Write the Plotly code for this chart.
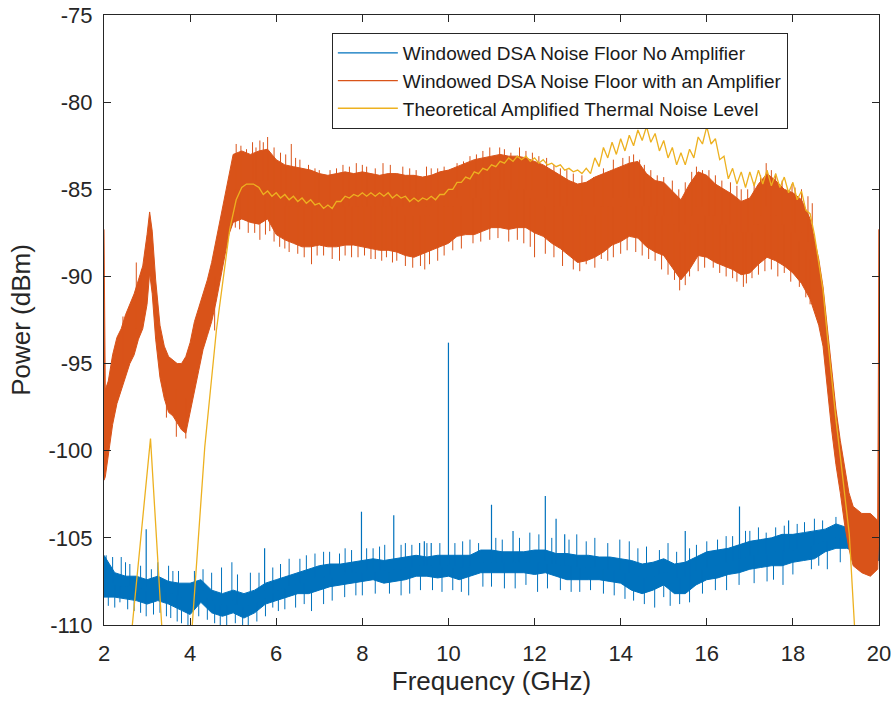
import plotly.graph_objects as go

# ---------------- data ----------------
# Windowed DSA noise floor, no amplifier: dense core of the trace (GHz, dBm)
blue_x = [2.0, 2.25, 2.5, 2.75, 3.0, 3.25, 3.5, 3.75, 4.0, 4.25, 4.5, 4.75, 5.0, 5.25, 5.5,
          5.75, 6.0, 6.25, 6.5, 6.75, 7.0, 7.25, 7.5, 7.75, 8.0, 8.25, 8.5, 8.75, 9.0, 9.25,
          9.5, 9.75, 10.0, 10.25, 10.5, 10.75, 11.0, 11.25, 11.5, 11.75, 12.0, 12.25, 12.5,
          12.75, 13.0, 13.25, 13.5, 13.75, 14.0, 14.25, 14.5, 14.75, 15.0, 15.25, 15.5, 15.75,
          16.0, 16.25, 16.5, 16.75, 17.0, 17.25, 17.5, 17.75, 18.0, 18.25, 18.5, 18.75, 19.0,
          19.25, 19.5, 19.75, 20.0]
blue_hi = [-106.0, -107.0, -107.2, -107.2, -107.4, -107.2, -107.5, -107.6, -107.6, -107.4,
           -108.0, -108.2, -108.0, -108.2, -108.0, -107.6, -107.4, -107.2, -107.0, -106.8,
           -106.6, -106.5, -106.5, -106.4, -106.3, -106.2, -106.3, -106.2, -106.1, -106.0,
           -106.1, -106.0, -106.0, -106.0, -106.0, -105.7, -105.7, -105.8, -105.8, -105.8,
           -105.7, -105.7, -105.9, -105.9, -106.0, -106.0, -106.1, -106.1, -106.2, -106.3,
           -106.5, -106.4, -106.2, -106.5, -106.4, -106.1, -105.8, -105.7, -105.6, -105.4,
           -105.2, -105.1, -105.0, -104.8, -104.8, -104.7, -104.6, -104.5, -104.2, -104.4,
           -104.7, -104.8, -105.0]
blue_lo = [-108.4, -108.4, -108.5, -108.6, -108.8, -108.6, -108.8, -109.1, -109.4, -108.7,
           -109.3, -109.5, -109.3, -109.6, -109.3, -108.8, -108.6, -108.4, -108.2, -108.2,
           -108.0, -107.8, -107.7, -107.6, -107.5, -107.4, -107.6, -107.5, -107.4, -107.2,
           -107.2, -107.3, -107.2, -107.4, -107.2, -107.0, -107.0, -107.0, -107.0, -107.0,
           -107.1, -107.0, -107.2, -107.4, -107.4, -107.4, -107.4, -107.5, -107.6, -108.0,
           -108.2, -108.0, -107.7, -108.2, -108.2, -107.7, -107.4, -107.3, -107.1, -107.0,
           -106.8, -106.7, -106.6, -106.6, -106.4, -106.3, -106.2, -105.8, -105.6, -105.6,
           -105.8, -106.1, -106.3]
# narrow spurs on the no-amplifier trace
spur_x = [2.98, 5.73, 7.98, 8.73, 9.33, 9.44, 9.60, 10.0, 11.0, 11.5, 12.25, 12.5, 12.7,
          15.5, 16.76, 17.9]
spur_top = [-104.5, -105.6, -103.5, -103.7, -105.3, -105.2, -105.3, -93.8, -103.1, -104.6,
            -102.6, -103.9, -104.8, -104.6, -103.2, -104.0]
spur_base = [-107.8, -108.0, -106.8, -106.8, -106.6, -106.6, -106.6, -106.6, -106.3, -106.4,
             -106.3, -106.5, -106.6, -107.2, -106.2, -105.6]
# noise excursions above the core (x, inside-band level, tip)
blue_up_x = [2.2, 2.4, 2.6, 3.25, 3.5, 3.73, 4.3, 4.73, 4.97, 5.4, 5.92, 6.3, 6.55, 6.9,
             7.24, 7.47, 7.75, 8.25, 8.52, 9.0, 9.15, 9.8, 10.33, 10.7, 11.25, 11.89, 12.1,
             12.98, 13.4, 13.98, 14.2, 14.6, 15.1, 15.76, 16.25, 16.6, 17.0, 17.38, 17.6,
             18.27, 18.69, 19.0,
             2.05, 2.5, 2.85, 3.1, 3.6, 4.1, 4.5, 5.1, 5.6, 6.1, 6.7, 7.1, 7.6, 8.1, 8.4,
             8.9, 9.5, 10.15, 10.5, 11.1, 11.65, 12.4, 12.8, 13.2, 13.7, 14.4, 14.9, 15.3,
             15.6, 16.0, 16.45, 16.9, 17.2, 17.8, 18.1, 18.5]
blue_up_from = [-107.6, -107.8, -107.8, -107.9, -108.0, -108.3, -108.0, -108.8, -108.6,
                -108.8, -108.0, -107.8, -107.6, -107.3, -107.1, -107.0, -107.0, -106.8,
                -106.9, -106.7, -106.7, -106.6, -106.7, -106.4, -106.4, -106.4, -106.4,
                -106.7, -106.7, -106.8, -107.0, -107.3, -107.0, -106.9, -106.5, -106.3,
                -106.0, -105.9, -105.8, -105.5, -105.2, -105.0,
                -107.4, -107.8, -107.9, -108.0, -108.2, -108.4, -108.6, -108.8, -108.5,
                -107.9, -107.4, -107.2, -107.0, -106.9, -106.9, -106.8, -106.6, -106.6,
                -106.6, -106.4, -106.4, -106.5, -106.6, -106.7, -106.8, -107.2, -107.1,
                -107.3, -107.2, -106.7, -106.4, -106.1, -106.0, -105.8, -105.6, -105.4]
blue_up_tip = [-106.1, -106.1, -106.5, -106.4, -106.6, -106.9, -106.8, -106.7, -106.4,
               -107.0, -106.7, -106.2, -106.2, -105.9, -105.8, -105.9, -105.7, -105.6,
               -105.4, -105.3, -105.4, -105.3, -105.2, -105.3, -105.1, -104.7, -104.8,
               -104.8, -105.0, -105.1, -105.2, -105.5, -105.3, -105.4, -105.1, -104.9,
               -104.6, -104.7, -104.4, -104.1, -104.0, -103.8,
               -106.0, -106.4, -106.6, -106.8, -106.9, -106.9, -107.0, -107.1, -107.0,
               -106.5, -106.0, -105.8, -105.6, -105.6, -105.5, -105.4, -105.3, -105.3,
               -105.1, -105.0, -105.0, -105.0, -105.1, -105.2, -105.3, -105.6, -105.7,
               -105.8, -105.6, -105.2, -104.9, -104.6, -104.4, -104.3, -104.2, -103.9]
blue_dn_x = [2.1, 2.37, 2.7, 2.98, 3.3, 3.55, 3.8, 3.95, 4.4, 4.57, 4.85, 5.22, 5.55, 5.92,
             6.2, 6.82, 7.1, 7.59, 8.0, 8.63, 9.1, 9.63, 10.1, 10.47, 10.8, 11.3, 12.07,
             12.6, 13.05, 13.6, 14.3, 14.79, 15.37, 15.9, 16.46, 17.1, 17.77, 18.43, 18.8,
             2.25, 2.55, 2.85, 3.15, 3.45, 3.7, 4.2, 4.7, 5.05, 5.35, 5.75, 6.05, 6.45,
             6.65, 7.3, 7.85, 8.3, 8.9, 9.35, 9.85, 10.3, 11.0, 11.55, 11.8, 12.3, 12.85,
             13.3, 13.85, 14.1, 14.55, 15.0, 15.15, 15.6, 16.2, 16.75, 17.4, 17.55, 18.0,
             18.6, 19.1]
blue_dn_from = [-107.6, -107.8, -107.8, -108.0, -108.0, -108.2, -108.4, -108.6, -108.4,
                -108.8, -108.9, -109.0, -108.7, -108.2, -107.9, -107.5, -107.3, -107.1,
                -107.0, -107.0, -106.8, -106.7, -106.7, -106.7, -106.4, -106.4, -106.4,
                -106.6, -106.7, -106.8, -107.1, -107.2, -107.3, -106.8, -106.4, -106.0,
                -105.7, -105.5, -105.2,
                -107.7, -107.8, -107.9, -108.0, -108.1, -108.3, -108.3, -108.9, -108.8,
                -108.9, -108.5, -108.0, -107.7, -107.6, -107.3, -107.0, -107.0, -106.9,
                -106.8, -106.7, -106.7, -106.4, -106.4, -106.4, -106.5, -106.6, -106.7,
                -106.9, -107.0, -107.3, -107.0, -107.2, -107.1, -106.6, -106.3, -106.0,
                -105.9, -105.7, -105.3, -105.0]
blue_dn_tip = [-108.9, -108.7, -109.2, -109.5, -109.3, -109.6, -109.9, -110.0, -109.7,
               -109.9, -110.0, -110.0, -109.8, -109.0, -109.1, -109.2, -108.8, -108.4,
               -108.3, -108.2, -108.2, -108.0, -108.0, -108.3, -107.8, -107.9, -108.1,
               -108.0, -108.1, -108.2, -108.6, -109.0, -108.8, -108.2, -108.0, -107.6,
               -107.7, -106.8, -106.8,
               -109.0, -109.1, -109.3, -109.4, -109.5, -109.8, -109.5, -110.0, -109.9,
               -110.0, -109.5, -109.2, -109.0, -108.8, -108.6, -108.3, -108.2, -108.3,
               -108.0, -108.1, -108.1, -107.8, -107.9, -107.7, -107.9, -108.1, -108.0,
               -108.3, -108.5, -108.8, -108.4, -108.9, -108.7, -108.0, -107.7, -107.5,
               -107.4, -107.1, -106.6, -106.4]

# Windowed DSA noise floor with an amplifier: dense core of the trace
orange_x = [2.0, 2.03, 2.1, 2.2, 2.3, 2.4, 2.5, 2.6, 2.7, 2.8, 2.9, 3.0, 3.06, 3.12, 3.2, 3.3,
            3.4, 3.5, 3.6, 3.7, 3.8, 3.9, 4.0, 4.1, 4.2, 4.3, 4.4, 4.5, 4.6, 4.7, 4.8, 4.9,
            5.0, 5.2, 5.4, 5.6, 5.8, 6.0, 6.2, 6.4, 6.6, 6.8, 7.0, 7.2, 7.4, 7.6, 7.8, 8.0,
            8.2, 8.4, 8.6, 8.8, 9.0, 9.2, 9.4, 9.6, 9.8, 10.0, 10.2, 10.4, 10.6, 10.8, 11.0,
            11.2, 11.4, 11.6, 11.8, 12.0, 12.2, 12.4, 12.6, 12.8, 13.0, 13.2, 13.4, 13.6,
            13.8, 14.0, 14.2, 14.4, 14.6, 14.8, 15.0, 15.2, 15.4, 15.6, 15.8, 16.0, 16.2,
            16.4, 16.6, 16.8, 17.0, 17.2, 17.4, 17.6, 17.8, 18.0, 18.2, 18.4, 18.6, 18.7,
            18.8, 18.9, 19.0, 19.1, 19.2, 19.3, 19.4, 19.6, 19.8, 19.97, 20.0]
orange_hi = [-87.3, -96.5, -96.0, -94.5, -93.5, -93.0, -92.2, -91.6, -91.0, -90.2, -89.4,
             -87.6, -86.3, -87.4, -90.2, -92.8, -94.0, -94.6, -94.8, -95.0, -95.0, -94.6,
             -93.8, -92.6, -91.8, -91.0, -90.2, -89.2, -88.0, -86.8, -85.4, -84.2,
             -83.0, -82.8, -83.0, -82.8, -82.7,
             -83.3, -83.6, -83.7, -83.8, -83.9, -84.1, -84.2, -84.1, -84.0, -84.1,
             -84.0, -84.1, -84.2, -84.1, -84.1, -84.2, -84.2, -84.3, -84.2, -84.0,
             -83.9, -83.7, -83.5, -83.3, -83.2, -83.1, -83.0, -83.1, -83.1, -83.2,
             -83.4, -83.6, -83.9, -84.2, -84.5, -84.7, -84.6, -84.3, -84.1, -83.9,
             -83.7, -83.5, -83.4, -84.1, -84.5, -84.6, -85.1, -85.6, -84.7, -84.0,
             -84.2, -84.7, -85.0, -85.3, -85.7, -85.5, -84.7, -84.1, -84.5, -85.0,
             -85.2, -85.6, -86.7,
             -89.0, -90.6, -93.0, -95.6, -97.6, -99.4, -101.0, -102.4, -103.2,
             -103.6, -103.6, -104.0, -87.3]
orange_lo = [-101.7, -101.5, -100.2, -98.5, -97.3, -96.6, -95.8, -95.0, -94.5, -93.6, -93.0,
             -91.6, -89.8, -91.0, -93.6, -95.8, -97.0, -97.8, -98.0, -98.4, -98.8, -99.0,
             -98.0, -96.6, -95.4, -94.2, -93.4, -92.6, -91.5, -90.2, -88.8, -87.6,
             -86.9, -86.7, -86.9, -87.0, -86.7,
             -87.6, -87.9, -88.1, -88.3, -88.3, -88.2, -88.3, -88.3, -88.2, -88.2,
             -88.3, -88.4, -88.5, -88.5, -88.6, -88.8, -88.9, -88.7, -88.5, -88.3,
             -88.1, -87.7, -87.6, -87.6, -87.4, -87.2, -87.2, -87.3, -87.2, -87.2,
             -87.5, -87.7, -88.1, -88.4, -88.8, -89.2, -89.1, -88.9, -88.6, -88.2,
             -88.0, -87.7, -87.8, -88.3, -88.6, -88.8, -89.5, -90.2, -89.6, -88.8,
             -88.9, -89.2, -89.4, -89.6, -89.9, -89.8, -89.3, -88.9, -89.1, -89.4,
             -89.8, -90.4, -91.3,
             -92.8, -94.0, -96.4, -98.8, -100.8, -102.4, -104.2, -105.6, -106.6,
             -107.0, -107.2, -106.8, -104.5]
# noise excursions (x, inside-band level, tip)
orange_up_x = [2.44, 2.75, 2.87, 5.07, 5.31, 5.45, 5.62, 5.80, 5.95, 6.35, 6.55, 6.75, 7.0,
               7.25, 7.55, 7.86, 8.1, 8.3, 8.48, 8.94, 9.25, 9.49, 9.75, 10.0, 10.35, 10.65,
               10.96, 11.19, 11.45, 11.65, 11.95, 12.28, 12.6, 12.9, 13.37, 13.6, 13.83,
               14.2, 14.44, 14.7, 15.0, 15.2, 15.5, 15.76, 15.9, 16.2, 16.55, 16.8, 17.1,
               17.38, 17.6, 17.98, 18.2, 18.45,
               5.18, 5.53, 5.70, 6.1, 6.22, 6.45, 6.9, 7.4, 7.7, 8.0, 8.65, 9.1, 9.6, 9.9,
               10.2, 10.5, 10.8, 11.3, 11.8, 12.1, 12.45, 12.75, 13.1, 14.05, 14.3, 14.55,
               14.85, 15.35, 15.65, 16.05, 16.35, 16.7, 16.95, 17.25, 17.5, 17.75, 18.05,
               18.35]
orange_up_from = [-95.0, -93.0, -91.5, -85.0, -84.5, -84.5, -84.5, -84.5, -85.0, -86.0,
                  -86.0, -86.0, -86.0, -86.0, -86.0, -86.0, -86.0, -86.0, -86.0, -86.0,
                  -86.0, -86.0, -86.0, -86.0, -85.5, -85.5, -85.0, -85.0, -85.0, -85.0,
                  -85.0, -85.5, -86.0, -86.5, -86.0, -86.0, -85.5, -85.5, -85.5, -86.0,
                  -86.5, -86.5, -87.0, -86.0, -86.0, -86.5, -87.0, -87.5, -87.0, -86.0,
                  -86.5, -87.0, -87.5, -88.5,
                  -84.5, -84.5, -84.5, -85.5, -86.0, -86.0, -86.0, -86.0, -86.0, -86.0,
                  -86.0, -86.0, -86.0, -86.0, -85.5, -85.5, -85.0, -85.0, -85.0, -85.5,
                  -86.0, -86.0, -86.5, -85.5, -85.5, -86.0, -86.5, -87.5, -86.5, -86.5,
                  -87.0, -87.5, -87.5, -86.5, -86.5, -87.0, -87.5, -88.0]
orange_up_tip = [-92.3, -89.2, -89.6, -82.4, -82.7, -82.3, -82.2, -82.0, -82.6, -82.4,
                 -83.3, -83.6, -83.9, -83.9, -83.6, -83.5, -83.7, -83.8, -83.5, -83.7,
                 -83.9, -83.7, -83.8, -83.9, -83.4, -83.0, -82.6, -82.6, -82.9, -82.6,
                 -82.9, -83.2, -83.8, -84.1, -84.3, -83.8, -83.3, -83.1, -83.3, -83.9,
                 -84.3, -84.5, -84.6, -83.7, -83.9, -84.2, -84.6, -85.0, -84.6, -83.5,
                 -84.1, -84.7, -85.0, -85.8,
                 -82.5, -82.6, -82.3, -82.9, -83.0, -83.2, -83.8, -83.8, -83.7, -83.6,
                 -83.6, -83.8, -83.8, -83.7, -83.5, -83.1, -82.8, -82.7, -82.8, -83.1,
                 -83.6, -83.9, -84.2, -83.2, -83.0, -83.6, -84.2, -85.0, -84.0, -83.9,
                 -84.5, -84.8, -85.0, -84.2, -83.9, -84.5, -84.9, -85.4]
orange_dn_x = [3.45, 3.68, 3.9, 4.57, 5.15, 5.35, 5.62, 5.85, 6.08, 6.3, 6.82, 7.1, 7.47,
               7.75, 8.05, 8.3, 8.56, 8.8, 9.17, 9.35, 9.56, 9.75, 10.1, 10.57, 10.96, 11.4,
               11.75, 12.0, 12.45, 12.9, 13.2, 13.55, 13.83, 14.15, 14.5, 14.8, 15.1,
               15.37, 15.6, 15.95, 16.15, 16.45, 16.7, 16.92, 17.2, 17.5, 17.8, 18.15,
               18.4,
               5.05, 5.5, 5.75, 5.95, 6.2, 6.5, 6.65, 6.95, 7.3, 7.6, 7.9, 8.2, 8.45, 8.7,
               9.0, 9.45, 9.9, 10.3, 10.75, 11.15, 11.6, 11.9, 12.25, 12.65, 13.05, 13.4,
               13.7, 14.0, 14.35, 14.65, 14.95, 15.25, 15.5, 15.8, 16.3, 16.6, 16.85,
               17.05, 17.35, 17.65, 17.95, 18.3]
orange_dn_from = [-96.0, -96.5, -97.0, -90.0, -85.0, -85.0, -85.0, -85.0, -85.5, -86.0,
                  -86.0, -86.0, -86.0, -86.0, -86.0, -86.0, -86.0, -86.0, -86.5, -86.5,
                  -86.5, -86.0, -86.0, -85.5, -85.0, -85.0, -85.0, -85.5, -86.0, -86.5,
                  -86.5, -86.0, -86.0, -85.5, -86.0, -86.5, -87.0, -88.0, -87.0, -86.5,
                  -86.5, -87.0, -87.5, -87.5, -87.0, -86.5, -87.0, -88.0, -89.0,
                  -85.0, -85.0, -85.0, -85.5, -86.0, -86.0, -86.0, -86.0, -86.0, -86.0,
                  -86.0, -86.0, -86.0, -86.0, -86.5, -86.5, -86.0, -86.0, -85.5, -85.0,
                  -85.0, -85.5, -86.0, -86.0, -86.5, -86.5, -86.0, -86.0, -86.0, -86.0,
                  -86.5, -87.0, -87.5, -87.0, -87.0, -87.5, -87.5, -87.5, -87.0, -87.0,
                  -87.5, -88.5]
orange_dn_tip = [-98.1, -99.2, -99.3, -93.1, -87.3, -87.5, -87.9, -87.4, -88.3, -88.6,
                 -89.3, -88.8, -89.1, -88.9, -88.8, -89.0, -88.9, -89.1, -89.5, -89.4,
                 -89.3, -89.1, -88.5, -88.1, -87.9, -88.0, -88.1, -88.9, -88.9, -89.6,
                 -89.3, -89.0, -88.9, -88.5, -88.8, -89.1, -89.9, -90.8, -90.0, -89.5,
                 -89.5, -90.0, -90.3, -90.4, -89.9, -89.6, -89.8, -90.6, -91.6,
                 -87.2, -87.5, -87.6, -88.0, -88.4, -88.7, -88.9, -88.8, -89.0, -88.8,
                 -88.9, -89.0, -89.1, -89.2, -89.4, -89.6, -88.8, -88.4, -88.0, -87.8,
                 -87.9, -88.3, -88.7, -89.4, -89.7, -89.5, -89.1, -88.7, -88.6, -89.0,
                 -89.6, -90.2, -90.5, -89.7, -89.8, -90.1, -90.6, -90.1, -89.7, -90.0,
                 -90.3, -91.2]

# Theoretical amplified thermal noise level
yellow_x = [2.50, 2.66, 3.08, 3.34, 3.50, 3.90, 4.05, 4.34, 4.61, 4.92, 5.07, 5.20, 5.31,
            5.47, 5.6, 5.7, 5.8, 5.9, 6.0, 6.1, 6.2, 6.3, 6.4, 6.5, 6.6, 6.7, 6.8, 6.9,
            7.0, 7.1, 7.2, 7.3, 7.4, 7.5, 7.6, 7.7, 7.8, 7.9, 8.0, 8.1, 8.2, 8.3, 8.4,
            8.5, 8.6, 8.7, 8.8, 8.9, 9.0, 9.1, 9.2, 9.3, 9.4, 9.5, 9.6, 9.7, 9.8, 9.9,
            10.0, 10.1, 10.2, 10.3, 10.4, 10.5, 10.6, 10.7, 10.8, 10.9, 11.0, 11.1, 11.2,
            11.3, 11.4, 11.5, 11.6, 11.7, 11.8, 11.9, 12.0, 12.1, 12.2, 12.3, 12.4, 12.5,
            12.6, 12.7, 12.8, 12.9, 13.0, 13.1, 13.2, 13.3, 13.4, 13.5, 13.6, 13.7, 13.8,
            13.9, 14.0, 14.1, 14.2, 14.3, 14.4, 14.5, 14.6, 14.7, 14.8, 14.9, 15.0, 15.1,
            15.2, 15.3, 15.4, 15.5, 15.6, 15.7, 15.8, 15.9, 16.0, 16.1, 16.2, 16.3, 16.4,
            16.5, 16.6, 16.7, 16.8, 16.9, 17.0, 17.1, 17.2, 17.3, 17.4, 17.5, 17.6, 17.7,
            17.8, 17.9, 18.0, 18.1, 18.2, 18.3, 18.4, 18.5, 18.7, 18.8, 18.9, 19.0, 19.1,
            19.2, 19.31, 19.43, 19.60]
yellow_y = [-114.0, -110.0, -99.3, -110.0, -116.0, -116.0, -110.0, -99.8, -93.1, -87.3,
            -85.6, -84.9, -84.7, -84.7, -84.9, -85.3, -85.1, -85.4, -85.2, -85.5, -85.3,
            -85.6, -85.4, -85.7, -85.5, -85.8, -85.6, -85.9, -85.8, -86.1, -85.9, -86.1,
            -85.7, -85.7, -85.4, -85.5, -85.3, -85.4, -85.2, -85.4, -85.2, -85.4, -85.2,
            -85.4, -85.2, -85.5, -85.3, -85.5, -85.4, -85.7, -85.5, -85.7, -85.5, -85.6,
            -85.4, -85.6, -85.3, -85.3, -85.0, -85.0, -84.6, -84.6, -84.3, -84.4, -84.0,
            -84.1, -83.8, -83.9, -83.6, -83.7, -83.4, -83.5, -83.2, -83.4, -83.1, -83.3,
            -83.1, -83.4, -83.2, -83.5, -83.3, -83.6, -83.5, -83.7, -83.6, -83.9, -83.8,
            -84.0, -83.9, -84.1, -83.8, -84.1, -83.2, -83.7, -82.6, -83.2, -82.3, -83.0,
            -82.1, -82.8, -81.9, -82.5, -81.6, -82.2, -81.4, -82.3, -81.8, -82.8, -82.2,
            -83.2, -82.6, -83.6, -82.9, -83.6, -82.7, -83.2, -82.0, -82.4, -81.4, -82.4,
            -82.1, -83.3, -83.1, -84.4, -83.8, -84.7, -84.0, -84.9, -84.0, -84.8, -83.9,
            -84.7, -83.9, -84.8, -84.1, -84.9, -84.3, -85.2, -84.6, -85.6, -85.1, -86.2,
            -86.4, -87.6, -90.8, -93.4, -95.9, -98.2, -100.3, -102.5, -104.8, -110.0,
            -116.0]

names = ["Windowed DSA Noise Floor No Amplifier",
         "Windowed DSA Noise Floor with an Amplifier",
         "Theoretical Amplified Thermal Noise Level"]
xticks = [2, 4, 6, 8, 10, 12, 14, 16, 18, 20]
yticks = [-110, -105, -100, -95, -90, -85, -80, -75]
ytick_text = ["-110", "-105", "-100", "-95", "-90", "-85", "-80", "-75"]

# ---------------- styling ----------------
C_BLUE = "#0072BD"
C_ORANGE = "#D95319"
C_YELLOW = "#EDB120"
AX = "#262626"
FONT = "Liberation Sans, Arial, sans-serif"


def band(xs, hi, lo, color):
    return go.Scatter(x=xs + xs[::-1], y=hi + lo[::-1], fill="toself", fillcolor=color,
                      mode="lines", line=dict(color=color, width=1),
                      showlegend=False, hoverinfo="skip")


def whiskers(xs, y0, y1, color, width):
    px, py = [], []
    for x, a, b in zip(xs, y0, y1):
        px += [x, x, None]
        py += [a, b, None]
    return go.Scatter(x=px, y=py, mode="lines", line=dict(color=color, width=width),
                      showlegend=False, hoverinfo="skip")


fig = go.Figure()
fig.add_trace(band(blue_x, blue_hi, blue_lo, C_BLUE))
fig.add_trace(whiskers(blue_up_x, blue_up_from, blue_up_tip, C_BLUE, 1))
fig.add_trace(whiskers(blue_dn_x, blue_dn_from, blue_dn_tip, C_BLUE, 1))
fig.add_trace(whiskers(spur_x, spur_base, spur_top, C_BLUE, 1.2))
fig.add_trace(band(orange_x, orange_hi, orange_lo, C_ORANGE))
fig.add_trace(whiskers(orange_up_x, orange_up_from, orange_up_tip, C_ORANGE, 1))
fig.add_trace(whiskers(orange_dn_x, orange_dn_from, orange_dn_tip, C_ORANGE, 1))
fig.add_trace(go.Scatter(x=yellow_x, y=yellow_y, mode="lines",
                         line=dict(color=C_YELLOW, width=1.3), showlegend=False))

# legend entries
for n, c in zip(names, [C_BLUE, C_ORANGE, C_YELLOW]):
    fig.add_trace(go.Scatter(x=[None], y=[None], mode="lines", name=n,
                             line=dict(color=c, width=1.3)))

fig.update_layout(
    width=895, height=702,
    margin=dict(l=104, r=16, t=15, b=77),
    paper_bgcolor="white", plot_bgcolor="white",
    font=dict(family=FONT, color=AX),
    legend=dict(x=0.294, y=0.9705, xanchor="left", yanchor="top",
                bgcolor="white", bordercolor=AX, borderwidth=1, itemwidth=60,
                font=dict(size=19, color="#1a1a1a"), tracegroupgap=0),
    xaxis=dict(range=[2, 20], tickvals=xticks, ticks="inside", ticklen=7,
               tickcolor=AX, showline=True, linecolor=AX, linewidth=1,
               mirror="ticks", showgrid=False, zeroline=False, automargin=False,
               tickfont=dict(size=22, color=AX), ticklabelstandoff=9,
               title=dict(text="Frequency (GHz)", font=dict(size=26, color=AX),
                          standoff=3)),
    yaxis=dict(range=[-110, -75], tickvals=yticks, ticktext=ytick_text,
               ticks="inside", ticklen=7,
               tickcolor=AX, showline=True, linecolor=AX, linewidth=1,
               mirror="ticks", showgrid=False, zeroline=False, automargin=False,
               tickfont=dict(size=22, color=AX), ticklabelstandoff=6,
               title=dict(text="Power (dBm)", font=dict(size=26, color=AX),
                          standoff=10)),
)

fig.write_html("out.html", config={"displayModeBar": False},
               post_script="document.body.style.margin='0';")
